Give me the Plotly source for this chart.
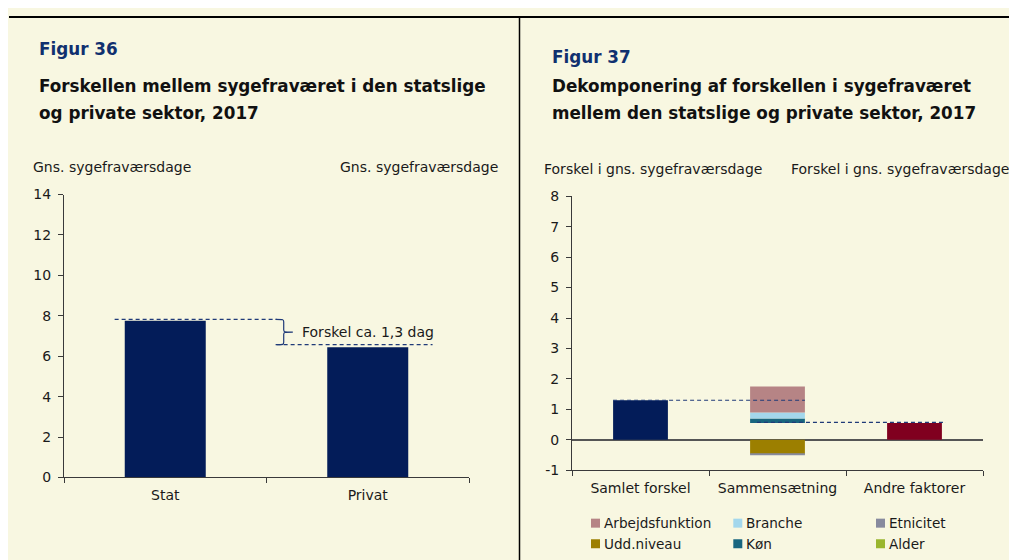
import plotly.graph_objects as go

# figure size; the page puts it at x+8 and maps its y as 15.4 + 0.9717*y in the photo
FW, FH = 1009, 560
OX, OY, SY = 8, 15.4, 0.9717

# ---------------- data ----------------
# Figur 36
fig36_categories = ["Stat", "Privat"]
fig36_values = [7.75, 6.45]
fig36_yticks = [0, 2, 4, 6, 8, 10, 12, 14]

# Figur 37
fig37_categories = ["Samlet forskel", "Sammensætning", "Andre faktorer"]
samlet_forskel = 1.3
andre_faktorer = 0.55
comp_names = ["Køn", "Branche", "Arbejdsfunktion", "Udd.niveau", "Etnicitet", "Alder"]
comp_values = [0.15, 0.20, 0.85, -0.47, -0.03, 0.0]
legend_order = ["Arbejdsfunktion", "Branche", "Etnicitet", "Udd.niveau", "Køn", "Alder"]
fig37_yticks = [-1, 0, 1, 2, 3, 4, 5, 6, 7, 8]

# ---------------- styles ----------------
FONT = "DejaVu Sans"
CREAM = "#F8F7E1"
NAVY = "#031C59"
DARKRED = "#80001F"
DASH = "#1F3A78"
AXIS = "#3a3a3a"
TXT = "#1a1a1a"
comp_colors = {
    "Køn": "#19667F",
    "Branche": "#A3D7EC",
    "Arbejdsfunktion": "#B68485",
    "Udd.niveau": "#9C7F00",
    "Etnicitet": "#878A9E",
    "Alder": "#9AB62E",
}
BAR_W = 0.4


def px(x):
    """photo x (pixels) -> paper fraction"""
    return (x - OX) / FW


def py(y):
    """photo y (pixels) -> paper fraction"""
    return 1 - ((y - OY) / SY) / FH


fig = go.Figure()

# ---------------- Figur 36 bars ----------------
fig.add_trace(go.Bar(x=fig36_categories, y=fig36_values, marker_color=NAVY,
                     marker_line_width=0, xaxis="x", yaxis="y", showlegend=False,
                     hoverinfo="skip"))

# ---------------- Figur 37 bars ----------------
fig.add_trace(go.Bar(x=[fig37_categories[0]], y=[samlet_forskel], marker_color=NAVY,
                     marker_line_width=0, xaxis="x2", yaxis="y3", showlegend=False))
# invisible base for the floating composition stack
fig.add_trace(go.Bar(x=[fig37_categories[1]], y=[andre_faktorer], marker_color="rgba(0,0,0,0)",
                     marker_line_width=0, xaxis="x2", yaxis="y3", showlegend=False,
                     hoverinfo="skip"))
for name, val in zip(comp_names, comp_values):
    fig.add_trace(go.Bar(x=[fig37_categories[1]], y=[val], name=name,
                         marker_color=comp_colors[name], marker_line_width=0,
                         xaxis="x2", yaxis="y3", showlegend=False))
fig.add_trace(go.Bar(x=[fig37_categories[2]], y=[andre_faktorer], marker_color=DARKRED,
                     marker_line_width=0, xaxis="x2", yaxis="y3", showlegend=False))

# ---------------- axes ----------------
common_y = dict(showline=True, linecolor=AXIS, linewidth=1, ticks="outside", ticklen=5,
                tickcolor=AXIS, showgrid=False, zeroline=False,
                tickfont=dict(family=FONT, size=14, color=TXT), ticklabelstandoff=4)
common_x = dict(type="category", showline=True, linecolor=AXIS, linewidth=1,
                ticks="outside", ticklen=5, tickcolor=AXIS, tickson="boundaries",
                showgrid=False, zeroline=False, ticklabelstandoff=5,
                tickfont=dict(family=FONT, size=14, color=TXT))

fig.update_layout(
    xaxis=dict(domain=[px(64), px(469)], range=[-0.5, len(fig36_categories) - 0.5],
               categoryorder="array", categoryarray=fig36_categories, anchor="y", **common_x),
    yaxis=dict(domain=[py(477), py(194)], range=[0, 14], tickvals=fig36_yticks,
               ticktext=[str(v) for v in fig36_yticks], anchor="x", **common_y),
    yaxis2=dict(range=[0, 14], tickvals=fig36_yticks, ticktext=[str(v) for v in fig36_yticks],
                overlaying="y", side="right", anchor="x", **common_y),
    xaxis2=dict(domain=[px(572), px(983)], range=[-0.5, len(fig37_categories) - 0.5],
                categoryorder="array", categoryarray=fig37_categories, anchor="y3", **common_x),
    yaxis3=dict(domain=[py(469.8), py(195.7)], range=[-1, 8], tickvals=fig37_yticks,
                ticktext=[str(v) for v in fig37_yticks], anchor="x2",
                **{**common_y, "zeroline": True, "zerolinecolor": "#555555", "zerolinewidth": 2}),
    yaxis4=dict(range=[-1, 8], tickvals=fig37_yticks, ticktext=[str(v) for v in fig37_yticks],
                overlaying="y3", side="right", anchor="x2", **common_y),
)

shapes = []
# background panel and frame lines
shapes.append(dict(type="rect", xref="paper", yref="paper", x0=px(9), x1=1, y0=0, y1=1,
                   fillcolor=CREAM, line_width=0, layer="below"))
shapes.append(dict(type="line", xref="paper", yref="paper", x0=px(9), x1=1,
                   y0=1 - 1.0 / FH, y1=1 - 1.0 / FH, line=dict(color="black", width=2)))
shapes.append(dict(type="line", xref="paper", yref="paper", x0=px(519.5), x1=px(519.5),
                   y0=0, y1=1, line=dict(color="black", width=1.5)))

# Figur 36 difference markers
stat_v, priv_v = fig36_values
up_y = stat_v + 0.07
lo_y = priv_v + 0.12
shapes.append(dict(type="line", xref="x", yref="y", x0=0 - BAR_W / 2 - 0.05, x1=0.55,
                   y0=up_y, y1=up_y, line=dict(color=DASH, width=1.2, dash="4px,3px")))
shapes.append(dict(type="line", xref="x", yref="y", x0=0.55, x1=1 + BAR_W / 2 + 0.12,
                   y0=lo_y, y1=lo_y, line=dict(color=DASH, width=1.2, dash="4px,3px")))
mid = (up_y + lo_y) / 2
bx0, bx1, btip = 0.545, 0.585, 0.63
r = 0.12
brace = (f"M{bx0},{up_y} C{bx1},{up_y} {bx1},{up_y} {bx1},{up_y - r} "
         f"L{bx1},{mid + r} C{bx1},{mid} {bx1},{mid} {btip},{mid} "
         f"C{bx1},{mid} {bx1},{mid} {bx1},{mid - r} "
         f"L{bx1},{lo_y + r} C{bx1},{lo_y} {bx1},{lo_y} {bx0},{lo_y}")
shapes.append(dict(type="path", xref="x", yref="y", path=brace,
                   line=dict(color=DASH, width=1.2)))

# Figur 37 connector lines
shapes.append(dict(type="line", xref="x2", yref="y3", x0=0 - BAR_W / 2, x1=1 + BAR_W / 2,
                   y0=samlet_forskel, y1=samlet_forskel,
                   line=dict(color=DASH, width=1.2, dash="4px,3px")))
shapes.append(dict(type="line", xref="x2", yref="y3", x0=1 - 0.15, x1=2 + BAR_W / 2 + 0.03,
                   y0=andre_faktorer + 0.02, y1=andre_faktorer + 0.02,
                   line=dict(color=DASH, width=1.2, dash="4px,3px")))

annotations = []


def text(x, y, s, size=14, color=TXT, bold=False, xanchor="left"):
    annotations.append(dict(x=px(x), y=py(y), xref="paper", yref="paper",
                            text=f"<b>{s}</b>" if bold else s,
                            showarrow=False, xanchor=xanchor, yanchor="middle",
                            font=dict(family=FONT, size=size, color=color)))


# titles
text(37, 48.5, "Figur 36", size=16.8, color="#10306F", bold=True)
text(37, 85.7, "Forskellen mellem sygefraværet i den statslige", size=16.8, color="#111111", bold=True)
text(37, 112, "og private sektor, 2017", size=16.8, color="#111111", bold=True)
text(550, 56.5, "Figur 37", size=16.8, color="#10306F", bold=True)
text(550, 85.7, "Dekomponering af forskellen i sygefraværet", size=16.8, color="#111111", bold=True)
text(550, 112, "mellem den statslige og private sektor, 2017", size=16.8, color="#111111", bold=True)

# axis titles
text(31, 166.7, "Gns. sygefraværsdage")
text(500, 166.7, "Gns. sygefraværsdage", xanchor="right")
text(542, 168.3, "Forskel i gns. sygefraværsdage")
text(1011, 168.3, "Forskel i gns. sygefraværsdage", xanchor="right")

# difference label
annotations.append(dict(x=btip + 0.035, y=mid, xref="x", yref="y", text="Forskel ca. 1,3 dag",
                        showarrow=False, xanchor="left", yanchor="middle",
                        font=dict(family=FONT, size=14, color=TXT)))

# legend (manual, 3 columns x 2 rows)
col_x = [591, 733.3, 876]
row_y = [522.7, 543.3]
for i, name in enumerate(legend_order):
    cx = col_x[i % 3]
    ry = row_y[i // 3]
    shapes.append(dict(type="rect", xref="paper", yref="paper", x0=px(cx), x1=px(cx + 9),
                       y0=py(ry + 4.5), y1=py(ry - 4.5), fillcolor=comp_colors[name], line_width=0))
    text(cx + 11, ry, name, size=13.6)

fig.update_layout(
    width=FW, height=FH, autosize=False,
    margin=dict(l=0, r=0, t=0, b=0, pad=0),
    paper_bgcolor=CREAM, plot_bgcolor="rgba(0,0,0,0)",
    barmode="relative", bargap=1 - BAR_W,
    shapes=shapes, annotations=annotations,
    font=dict(family=FONT, size=14, color=TXT),
    showlegend=False,
)

fig.write_html("out.html")
